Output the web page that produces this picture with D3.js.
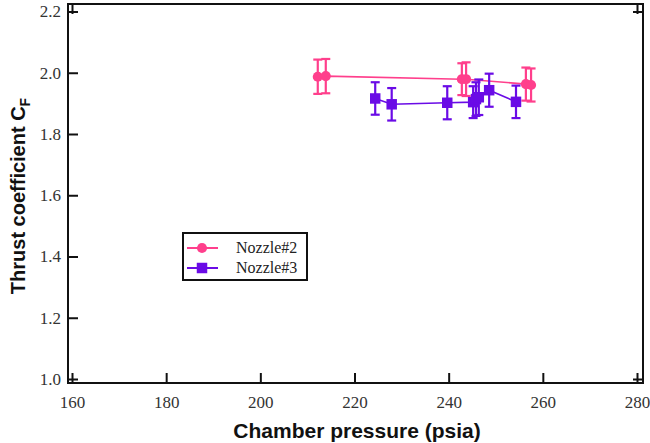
<!DOCTYPE html>
<html>
<head>
<meta charset="utf-8">
<script src="https://cdn.jsdelivr.net/npm/d3@7"></script>
<style>
  body { margin: 0; background: #fff; }
  .tick text { font-family: "Liberation Serif", serif; font-size: 17px; fill: #333; }
  .title { font-family: "Liberation Sans", Arial, sans-serif; font-weight: bold; fill: #111; }
</style>
</head>
<body>
<svg class="chart"></svg>
<script>
// nozzle #2 readings (pressure, Cf, error)
var n2Pressure = [212.2, 213.9, 242.8, 243.7, 256.4, 257.5];
var n2Cf       = [1.987, 1.989, 1.979, 1.979, 1.963, 1.960];
var n2Err      = [0.056, 0.056, 0.052, 0.055, 0.054, 0.054];

// nozzle #3 readings
var n3Pressure = [224.4, 227.9, 239.7, 245.2, 245.8, 246.4, 248.6, 254.3];
var n3Cf       = [1.916, 1.897, 1.902, 1.904, 1.914, 1.920, 1.943, 1.905];
var n3Err      = [0.053, 0.053, 0.054, 0.052, 0.055, 0.058, 0.054, 0.053];

var xTicks = [160, 180, 200, 220, 240, 260, 280];
var yTicks = [1.0, 1.2, 1.4, 1.6, 1.8, 2.0, 2.2];
var seriesNames = ["Nozzle#2", "Nozzle#3"];

var width = 650, height = 443;
var box = { left: 68, right: 643, top: 4, bottom: 383 };
var pink = "#ff3f8c", purple = "#6a0be6";

var svg = d3.select('.chart')
    .attr('width', width)
    .attr('height', height);

var x = d3.scaleLinear().domain([160, 280]).range([72, 637]);
var y = d3.scaleLinear().domain([1.0, 2.2]).range([379, 11.5]);

function rows(px, py, pe) {
  return px.map(function(p, i) { return { x: p, y: py[i], e: pe[i] }; });
}
var nozzle2 = rows(n2Pressure, n2Cf, n2Err);
var nozzle3 = rows(n3Pressure, n3Cf, n3Err);

// axes, ticks pointing inward
function styleAxis(g) {
  g.select('.domain').remove();
  g.selectAll('.tick line').attr('stroke', '#111').attr('stroke-width', 2);
}

svg.append('g')
    .attr('transform', `translate(${box.left},0)`)
    .call(d3.axisLeft(y).tickValues(yTicks).tickFormat(d3.format('.1f')).tickSize(-10).tickPadding(7))
    .call(styleAxis);

svg.append('g')
    .attr('transform', `translate(0,${box.bottom})`)
    .call(d3.axisBottom(x).tickValues(xTicks).tickSize(-10).tickPadding(13))
    .call(styleAxis);

// top and right only have end ticks
svg.append('g')
    .attr('transform', `translate(0,${box.top})`)
    .call(d3.axisTop(x).tickValues([160, 280]).tickSize(-10).tickFormat(''))
    .call(styleAxis);

svg.append('g')
    .attr('transform', `translate(${box.right},0)`)
    .call(d3.axisRight(y).tickValues([1.0, 2.2]).tickSize(-10).tickFormat(''))
    .call(styleAxis);

svg.append('rect')
    .attr('x', box.left)
    .attr('y', box.top)
    .attr('width', box.right - box.left)
    .attr('height', box.bottom - box.top)
    .attr('fill', 'none')
    .attr('stroke', '#111')
    .attr('stroke-width', 2);

var line = d3.line()
    .x(function(d) { return x(d.x); })
    .y(function(d) { return y(d.y); });

function drawSeries(data, color, marker) {
  var g = svg.append('g');
  g.append('path')
      .datum(data)
      .attr('d', line)
      .attr('fill', 'none')
      .attr('stroke', color)
      .attr('stroke-width', 1.6);

  var eb = g.selectAll('.err').data(data).enter().append('g').attr('class', 'err')
      .attr('stroke', color).attr('stroke-width', 2.2);
  eb.append('line')
      .attr('x1', function(d) { return x(d.x); })
      .attr('x2', function(d) { return x(d.x); })
      .attr('y1', function(d) { return y(d.y - d.e); })
      .attr('y2', function(d) { return y(d.y + d.e); });
  eb.append('line')
      .attr('x1', function(d) { return x(d.x) - 4.5; })
      .attr('x2', function(d) { return x(d.x) + 4.5; })
      .attr('y1', function(d) { return y(d.y + d.e); })
      .attr('y2', function(d) { return y(d.y + d.e); });
  eb.append('line')
      .attr('x1', function(d) { return x(d.x) - 4.5; })
      .attr('x2', function(d) { return x(d.x) + 4.5; })
      .attr('y1', function(d) { return y(d.y - d.e); })
      .attr('y2', function(d) { return y(d.y - d.e); });

  g.selectAll('.pt').data(data).enter()
      .append('path')
      .attr('transform', function(d) { return `translate(${x(d.x)},${y(d.y)})`; })
      .attr('d', marker)
      .attr('fill', color);
}

var circle = d3.symbol().type(d3.symbolCircle).size(80)();
var square = d3.symbol().type(d3.symbolSquare).size(110)();

drawSeries(nozzle2, pink, circle);
drawSeries(nozzle3, purple, square);

// legend
var legend = svg.append('g').attr('transform', 'translate(183,233)');
legend.append('rect')
    .attr('width', 124).attr('height', 47)
    .attr('fill', '#fff').attr('stroke', '#111').attr('stroke-width', 2);

var entries = [
  { name: seriesNames[0], color: pink, marker: circle },
  { name: seriesNames[1], color: purple, marker: square }
];
var item = legend.selectAll('.item').data(entries).enter().append('g')
    .attr('transform', function(d, i) { return `translate(0,${15 + i * 20})`; });
item.append('line')
    .attr('x1', 4).attr('x2', 35)
    .attr('stroke', function(d) { return d.color; })
    .attr('stroke-width', 2);
item.append('path')
    .attr('transform', 'translate(19,0)')
    .attr('d', function(d) { return d.marker; })
    .attr('fill', function(d) { return d.color; });
item.append('text')
    .attr('x', 53).attr('y', 5)
    .style('font-family', '"Liberation Serif", serif')
    .style('font-size', '16px')
    .attr('fill', '#222')
    .text(function(d) { return d.name; });

// titles
svg.append('text')
    .attr('class', 'title')
    .attr('x', 357).attr('y', 438)
    .attr('text-anchor', 'middle')
    .style('font-size', '21px')
    .text('Chamber pressure (psia)');

var yt = svg.append('text')
    .attr('class', 'title')
    .attr('transform', 'translate(25,196) rotate(-90)')
    .attr('text-anchor', 'middle')
    .style('font-size', '20px');
yt.append('tspan').text('Thrust coefficient C');
yt.append('tspan').attr('dy', 5).style('font-size', '14px').text('F');
</script>
</body>
</html>
